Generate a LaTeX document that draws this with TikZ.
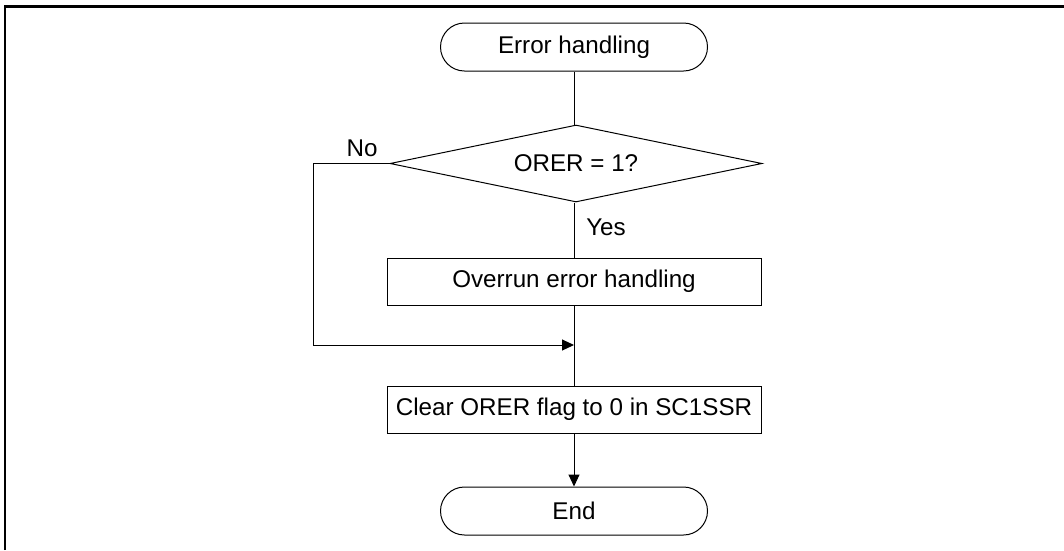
\documentclass[tikz,border=0pt]{standalone}
\usepackage{fontspec}
\setmainfont{Liberation Sans}
\usetikzlibrary{shapes.geometric,arrows.meta}
\begin{document}
\begin{tikzpicture}[x=1pt,y=-1pt,
  every node/.style={font=\fontsize{24.2}{28}\selectfont},
  terminal/.style={draw,line width=1pt,rectangle,rounded corners=24pt,minimum width=267pt,minimum height=48pt,inner sep=0pt},
  procbox/.style={draw,line width=1pt,rectangle,minimum width=374pt,minimum height=47pt,inner sep=0pt},
  decision/.style={draw,line width=1pt,diamond,aspect=4.83,minimum width=372pt,minimum height=77pt,inner sep=0pt},
  flow/.style={line width=1pt},
  arrowflow/.style={line width=1pt,-{Triangle[length=12pt,width=11pt]}},
  lbl/.style={inner sep=0pt}]
\useasboundingbox (0,0) rectangle (1064,550);
\draw[line width=2.6pt] (5,550) -- (5,6.5) -- (1064,6.5);
\node[terminal] (start) at (574,47) {Error handling};
\node[decision] (dec) at (576,163.5) {ORER = 1?};
\node[procbox] (over) at (574,281.5) {Overrun error handling};
\node[procbox] (clear) at (574,409.5) {Clear ORER flag to 0 in SC1SSR};
\node[terminal] (end) at (574,511) {End};
\coordinate (lft) at (313,163.5);
\coordinate (lbot) at (313,345);
\coordinate (merge) at (574,345);
\node[lbl] (no) at (362,148) {No};
\node[lbl] (yes) at (606,227) {Yes};
\draw[flow] (start.south) -- (start.south |- dec.north);
\draw[flow] (dec.south -| over.north) -- (over.north);
\draw[flow] (over.south) -- (clear.north);
\draw[flow] (dec.west) -- (lft) -- (lbot);
\draw[arrowflow] (lbot) -- (merge);
\draw[arrowflow] (clear.south) -- (end.north);
\end{tikzpicture}
\end{document}
